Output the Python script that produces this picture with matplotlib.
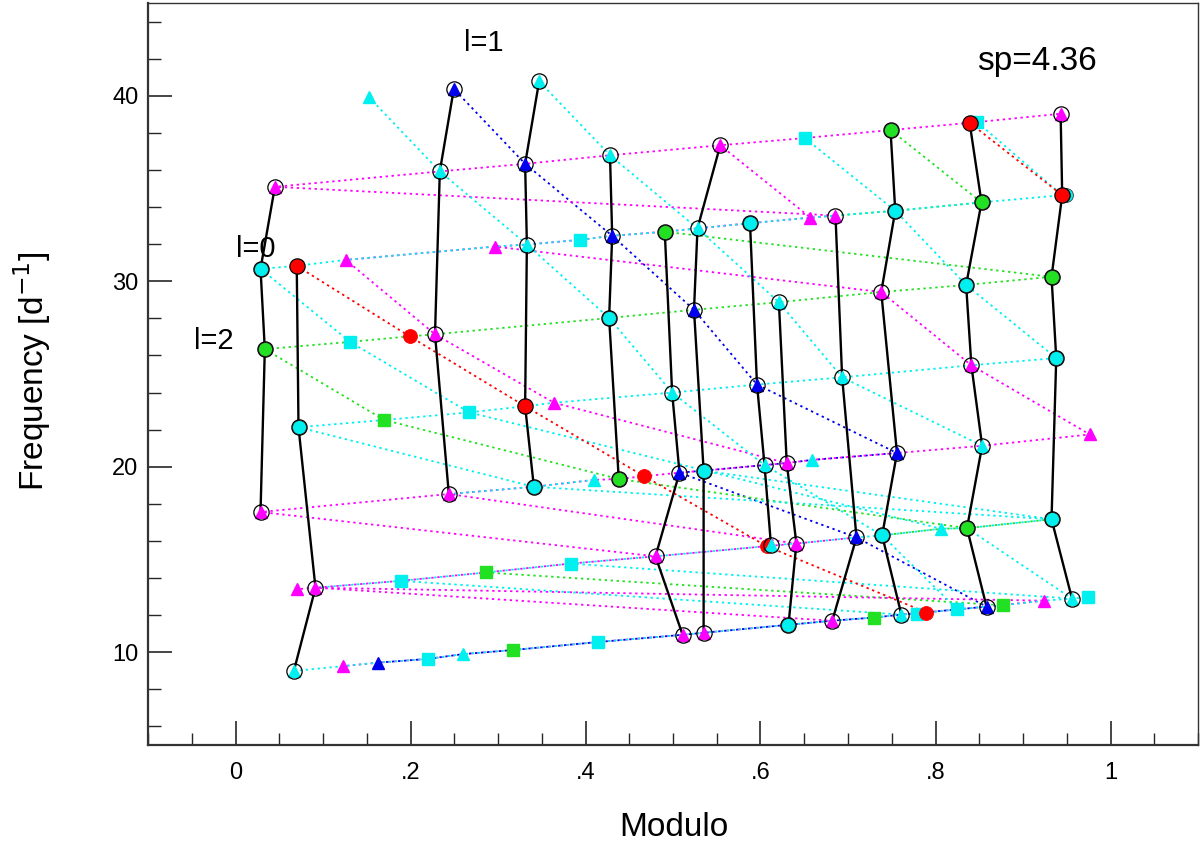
import matplotlib
matplotlib.use('Agg')
import matplotlib.pyplot as plt
from matplotlib.ticker import MultipleLocator, FixedLocator

plt.rcParams['font.family'] = ['Liberation Sans', 'DejaVu Sans']

CY = '#00f0f0'; MG = '#ff00ff'; BL = '#0000ee'; GR = '#22e022'; RD = '#ff0000'

# ---- ridges (black solid lines), modulo / frequency ----
ridges = [
    ([0.045, 0.0286, 0.0335, 0.0286], [35.09, 30.67, 26.34, 17.56]),
    ([0.070, 0.072, 0.0914, 0.0667], [30.83, 22.13, 13.48, 8.99]),
    ([0.2495, 0.2335, 0.228, 0.2438], [40.37, 35.92, 27.14, 18.53]),
    ([0.347, 0.331, 0.333, 0.331, 0.341], [40.78, 36.33, 31.98, 23.26, 18.92]),
    ([0.428, 0.4305, 0.427, 0.438], [36.79, 32.45, 28.02, 19.34]),
    ([0.4906, 0.499, 0.5074, 0.48, 0.511], [32.67, 24.0, 19.68, 15.17, 10.94]),
    ([0.554, 0.528, 0.524, 0.535, 0.535], [37.33, 32.85, 28.46, 19.79, 11.05]),
    ([0.588, 0.596, 0.6046, 0.612], [33.13, 24.43, 20.09, 15.76]),
    ([0.621, 0.630, 0.641, 0.632], [28.87, 20.2, 15.86, 11.48]),
    ([0.6857, 0.6933, 0.7097, 0.682], [33.54, 24.82, 16.19, 11.70]),
    ([0.7486, 0.754, 0.738, 0.756, 0.739, 0.761], [38.15, 33.80, 29.42, 20.74, 16.30, 12.03]),
    ([0.839, 0.8526, 0.835, 0.841, 0.8533, 0.836, 0.8583], [38.54, 34.25, 29.80, 25.47, 21.13, 16.69, 12.46]),
    ([0.943, 0.9448, 0.9326, 0.938, 0.9326, 0.956], [39.03, 34.64, 30.24, 25.86, 17.17, 12.89]),
]

# ---- markers ----
cyan_circ = ([0.0286, 0.072, 0.341, 0.427, 0.535, 0.588, 0.632, 0.754, 0.739, 0.835, 0.938, 0.9326, 0.9486],
             [30.67, 22.13, 18.92, 28.02, 19.79, 33.13, 11.48, 33.80, 16.30, 29.80, 25.86, 17.17, 34.64])
green_circ = ([0.0335, 0.438, 0.4906, 0.7486, 0.8526, 0.836, 0.9326],
              [26.34, 19.34, 32.67, 38.15, 34.25, 16.69, 30.24])
red_circ = ([0.070, 0.331, 0.839, 0.9448, 0.199, 0.467, 0.607, 0.7897],
            [30.83, 23.26, 38.54, 34.64, 27.03, 19.49, 15.72, 12.14])
mag_tri = ([0.045, 0.0286, 0.0914, 0.228, 0.2438, 0.48, 0.511, 0.554, 0.535, 0.630, 0.641, 0.6857,
            0.682, 0.738, 0.841, 0.943, 0.126, 0.070, 0.1227, 0.2964, 0.364, 0.657, 0.9764, 0.924],
           [35.09, 17.56, 13.48, 27.14, 18.53, 15.17, 10.94, 37.33, 11.05, 20.2, 15.86, 33.54,
            11.70, 29.42, 25.47, 39.03, 31.15, 13.40, 9.25, 31.87, 23.45, 33.43, 21.74, 12.78])
blue_tri = ([0.2495, 0.331, 0.4305, 0.5074, 0.524, 0.596, 0.7097, 0.756, 0.8583, 0.163],
            [40.37, 36.33, 32.45, 19.68, 28.46, 24.43, 16.19, 20.74, 12.46, 9.44])
cyan_tri = ([0.0667, 0.2335, 0.347, 0.333, 0.428, 0.499, 0.528, 0.6046, 0.612, 0.621, 0.6933, 0.761,
             0.8533, 0.956, 0.152, 0.4095, 0.260, 0.659, 0.8065],
            [8.99, 35.92, 40.78, 31.98, 36.79, 24.0, 32.85, 20.09, 15.76, 28.87, 24.82, 12.03,
             21.13, 12.89, 39.95, 19.29, 9.90, 20.37, 16.66])
cyan_sq = ([0.131, 0.189, 0.2198, 0.3935, 0.267, 0.383, 0.414, 0.6506, 0.779, 0.8248, 0.8476, 0.974],
           [26.73, 13.85, 9.64, 32.23, 22.93, 14.78, 10.55, 37.72, 12.07, 12.31, 38.58, 12.96])
green_sq = ([0.170, 0.286, 0.317, 0.7295, 0.877], [22.52, 14.30, 10.12, 11.87, 12.53])

# ---- dotted connection lines (polylines of modulo, frequency) ----
cyan_lines = [
    ([0.0667, 0.1227, 0.163, 0.2198, 0.260, 0.317, 0.414, 0.511, 0.535, 0.632, 0.682, 0.7295, 0.761,
      0.779, 0.7897, 0.8248, 0.8583, 0.877, 0.924, 0.956, 0.974],
     [8.99, 9.25, 9.44, 9.64, 9.90, 10.12, 10.55, 10.94, 11.05, 11.48, 11.70, 11.87, 12.03,
      12.07, 12.14, 12.31, 12.46, 12.53, 12.78, 12.89, 12.96]),
    ([0.0914, 0.189, 0.286, 0.383, 0.48, 0.607, 0.612, 0.641, 0.7097, 0.739, 0.8065, 0.836, 0.9326],
     [13.48, 13.85, 14.30, 14.78, 15.17, 15.72, 15.76, 15.86, 16.19, 16.30, 16.66, 16.69, 17.17]),
    ([0.2438, 0.341, 0.4095], [18.53, 18.92, 19.29]),
    ([0.072, 0.170, 0.267, 0.331, 0.364, 0.499, 0.596, 0.6933, 0.841, 0.938],
     [22.13, 22.52, 22.93, 23.26, 23.45, 24.0, 24.43, 24.82, 25.47, 25.86]),
    ([0.0286, 0.070, 0.126, 0.2964, 0.333, 0.3935, 0.4305, 0.4906, 0.528, 0.588, 0.657, 0.6857, 0.754,
      0.8526, 0.9448],
     [30.67, 30.83, 31.15, 31.87, 31.98, 32.23, 32.45, 32.67, 32.85, 33.13, 33.43, 33.54, 33.80,
      34.25, 34.64]),
    ([0.152, 0.2335, 0.333, 0.427, 0.499, 0.6046, 0.739, 0.8248], [39.95, 35.92, 31.98, 28.02, 24.0, 20.09, 16.30, 12.31]),
    ([0.347, 0.428, 0.528, 0.621, 0.6933, 0.8533], [40.78, 36.79, 32.85, 28.87, 24.82, 21.13]),
    ([0.0286, 0.131, 0.267, 0.8065], [30.67, 26.73, 22.93, 16.66]),
    ([0.072, 0.341, 0.9326], [22.13, 18.92, 17.17]),
    ([0.535, 0.9326], [19.79, 17.17]),
    ([0.836, 0.956], [16.69, 12.89]),
    ([0.189, 0.761], [13.85, 12.03]),
    ([0.383, 0.956], [14.78, 12.89]),
    ([0.6506, 0.754, 0.835, 0.938], [37.72, 33.80, 29.80, 25.86]),
    ([0.8476, 0.9448], [38.58, 34.64]),
]
mag_lines = [
    ([0.1227, 0.163, 0.2198, 0.260, 0.317, 0.414, 0.511, 0.535, 0.632, 0.682, 0.7295, 0.761, 0.8248,
      0.8583, 0.924], [9.25, 9.44, 9.64, 9.90, 10.12, 10.55, 10.94, 11.05, 11.48, 11.70, 11.87, 12.03,
                       12.31, 12.46, 12.78]),
    ([0.070, 0.0914, 0.189, 0.286, 0.383, 0.48, 0.607, 0.641, 0.7097],
     [13.40, 13.48, 13.85, 14.30, 14.78, 15.17, 15.72, 15.86, 16.19]),
    ([0.0286, 0.2438, 0.341, 0.4095, 0.438, 0.467, 0.5074, 0.535, 0.6046, 0.630, 0.659, 0.756, 0.8533,
      0.9764], [17.56, 18.53, 18.92, 19.29, 19.34, 19.49, 19.68, 19.79, 20.09, 20.2, 20.37, 20.74,
                21.13, 21.74]),
    ([0.126, 0.2964, 0.333, 0.3935, 0.4305, 0.4906, 0.528, 0.588, 0.657, 0.6857],
     [31.15, 31.87, 31.98, 32.23, 32.45, 32.67, 32.85, 33.13, 33.43, 33.54]),
    ([0.045, 0.2335, 0.331, 0.428, 0.554, 0.6506, 0.7486, 0.839, 0.943],
     [35.09, 35.92, 36.33, 36.79, 37.33, 37.72, 38.15, 38.54, 39.03]),
    ([0.045, 0.6857], [35.09, 33.54]),
    ([0.554, 0.657], [37.33, 33.43]),
    ([0.126, 0.228, 0.364, 0.630], [31.15, 27.14, 23.45, 20.2]),
    ([0.2964, 0.738, 0.841, 0.9764], [31.87, 29.42, 25.47, 21.74]),
    ([0.0286, 0.48], [17.56, 15.17]),
    ([0.2438, 0.641], [18.53, 15.86]),
    ([0.0914, 0.682], [13.48, 11.70]),
    ([0.0914, 0.924], [13.48, 12.78]),
]
blue_lines = [
    ([0.163, 0.2198, 0.260, 0.317, 0.414, 0.511, 0.535, 0.632, 0.682, 0.7295, 0.761, 0.8248, 0.8583],
     [9.44, 9.64, 9.90, 10.12, 10.55, 10.94, 11.05, 11.48, 11.70, 11.87, 12.03, 12.31, 12.46]),
    ([0.5074, 0.535, 0.6046, 0.630, 0.659, 0.756], [19.68, 19.79, 20.09, 20.2, 20.37, 20.74]),
    ([0.2495, 0.331, 0.4305, 0.524, 0.596, 0.756], [40.37, 36.33, 32.45, 28.46, 24.43, 20.74]),
    ([0.5074, 0.7097, 0.8583], [19.68, 16.19, 12.46]),
]
green_lines = [
    ([0.0335, 0.131, 0.199, 0.228, 0.427, 0.524, 0.621, 0.738, 0.835, 0.9326],
     [26.34, 26.73, 27.03, 27.14, 28.02, 28.46, 28.87, 29.42, 29.80, 30.24]),
    ([0.739, 0.8065, 0.836, 0.9326], [16.30, 16.66, 16.69, 17.17]),
    ([0.6857, 0.754, 0.8526], [33.54, 33.80, 34.25]),
    ([0.0335, 0.170, 0.438, 0.836], [26.34, 22.52, 19.34, 16.69]),
    ([0.4906, 0.9326], [32.67, 30.24]),
    ([0.7486, 0.8526], [38.15, 34.25]),
    ([0.286, 0.877], [14.30, 12.53]),
]
red_lines = [
    ([0.070, 0.199, 0.331, 0.467, 0.607, 0.7897], [30.83, 27.03, 23.26, 19.49, 15.72, 12.14]),
    ([0.839, 0.9448], [38.54, 34.64]),
]

x_ticks = [0, 0.2, 0.4, 0.6, 0.8, 1.0]
x_ticklabels = ['0', '.2', '.4', '.6', '.8', '1']
y_ticks = [10, 20, 30, 40]

fig = plt.figure(figsize=(12.01, 8.44), dpi=100)
ax = fig.add_axes([148 / 1201, 99 / 844, 1050 / 1201, 742 / 844])
ax.set_xlim(-0.1, 1.1)
ax.set_ylim(5, 45)

# interleave the dots of overlapping lines so shared paths look mixed
styles = [(blue_lines, BL, 2.2), (green_lines, GR, 0.0), (mag_lines, MG, 1.1),
          (cyan_lines, CY, 0.0), (red_lines, RD, 0.0)]
for lines, col, off in styles:
    for xs, ys in lines:
        ax.plot(xs, ys, color=col, lw=1.3, ls=(off, (1.3, 2.0)), zorder=2)

for xs, ys in ridges:
    ax.plot(xs, ys, color='black', lw=1.7, zorder=3)

ms = dict(ls='none', zorder=4)
ax.plot(*cyan_sq, marker='s', ms=8, mfc=CY, mec=CY, **ms)
ax.plot(*green_sq, marker='s', ms=8, mfc=GR, mec=GR, **ms)
ax.plot(*cyan_circ, marker='o', ms=10, mfc=CY, mec='0.25', mew=0.6, **ms)
ax.plot(*green_circ, marker='o', ms=10, mfc=GR, mec='0.25', mew=0.6, **ms)
ax.plot(*red_circ, marker='o', ms=10, mfc=RD, mec=RD, mew=0.6, **ms)
ax.plot(*mag_tri, marker='^', ms=9, mfc=MG, mec=MG, **ms)
ax.plot(*blue_tri, marker='^', ms=9, mfc=BL, mec=BL, **ms)
ax.plot(*cyan_tri, marker='^', ms=9, mfc=CY, mec=CY, **ms)
for xs, ys in ridges:
    ax.plot(xs, ys, marker='o', ms=11, mfc='none', mec='black', mew=0.9, ls='none', zorder=5)

ax.text(0.2617, 42.41, 'l=1', fontsize=21)
ax.text(0.0, 31.33, 'l=0', fontsize=21)
ax.text(-0.048, 26.35, 'l=2', fontsize=21)
ax.text(0.848, 41.37, 'sp=4.36', fontsize=24)

ax.xaxis.set_major_locator(FixedLocator(x_ticks))
ax.set_xticklabels(x_ticklabels)
ax.xaxis.set_minor_locator(MultipleLocator(0.05))
ax.yaxis.set_major_locator(FixedLocator(y_ticks))
ax.yaxis.set_minor_locator(MultipleLocator(2))
ax.tick_params(which='both', direction='in', top=False, right=False, color='0.15')
ax.tick_params(which='major', length=17, width=1.2, labelsize=17, pad=12)
ax.tick_params(axis='y', which='major', pad=7)
ax.tick_params(which='minor', length=9, width=1.0)
for s in ax.spines.values():
    s.set_color('0.2'); s.set_linewidth(1.0)
ax.spines['left'].set_linewidth(1.6)
ax.spines['bottom'].set_linewidth(1.6)

fig.text(674 / 1201, 1 - 828 / 844, 'Modulo', fontsize=24, ha='center', va='center')
fig.text(32 / 1201, 1 - 371 / 844, 'Frequency [d$^{-1}$]', fontsize=24, ha='center', va='center',
         rotation=90)

fig.savefig('out.png', dpi=100)
